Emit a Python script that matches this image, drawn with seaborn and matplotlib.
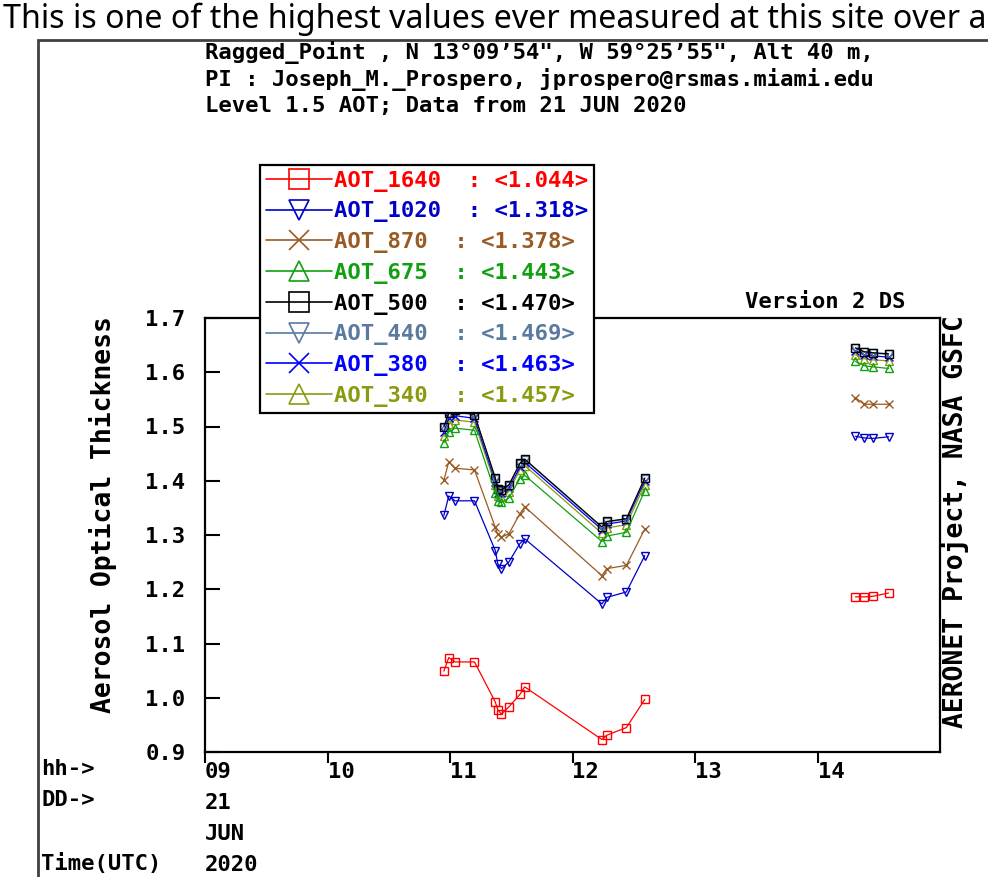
import numpy as np
import pandas as pd
import seaborn as sns
import matplotlib.pyplot as plt
from matplotlib.lines import Line2D
from matplotlib.patches import Rectangle

# observation times (UTC hours, 21 JUN 2020); 'am' and 'pm' groups are not joined
hours = [10.95, 10.99, 11.04, 11.20, 11.37, 11.39, 11.42, 11.48, 11.57, 11.61,
         12.24, 12.28, 12.44, 12.59, 14.31, 14.38, 14.45, 14.58]
part = ['am'] * 14 + ['pm'] * 4

bands = ['AOT_1640', 'AOT_1020', 'AOT_870', 'AOT_675',
         'AOT_500', 'AOT_440', 'AOT_380', 'AOT_340']
means = [1.044, 1.318, 1.378, 1.443, 1.470, 1.469, 1.463, 1.457]

aot_1640 = [1.049, 1.074, 1.066, 1.066, 0.992, 0.978, 0.970, 0.983, 1.006, 1.020,
            0.923, 0.931, 0.945, 0.997, 1.186, 1.186, 1.187, 1.193]
aot_1020 = [1.336, 1.372, 1.363, 1.363, 1.271, 1.247, 1.238, 1.250, 1.284, 1.293,
            1.173, 1.185, 1.195, 1.262, 1.482, 1.479, 1.478, 1.481]
aot_870 = [1.401, 1.435, 1.423, 1.420, 1.314, 1.301, 1.296, 1.302, 1.339, 1.352,
           1.225, 1.238, 1.244, 1.311, 1.553, 1.541, 1.541, 1.541]
aot_675 = [1.470, 1.490, 1.497, 1.493, 1.378, 1.362, 1.360, 1.368, 1.404, 1.410,
           1.288, 1.298, 1.305, 1.382, 1.620, 1.612, 1.610, 1.607]
aot_500 = [1.500, 1.525, 1.530, 1.522, 1.405, 1.385, 1.383, 1.392, 1.432, 1.440,
           1.315, 1.325, 1.330, 1.405, 1.645, 1.638, 1.636, 1.634]
aot_440 = [1.498, 1.523, 1.528, 1.521, 1.404, 1.384, 1.382, 1.391, 1.431, 1.439,
           1.314, 1.324, 1.329, 1.404, 1.644, 1.637, 1.635, 1.633]
aot_380 = [1.490, 1.515, 1.520, 1.515, 1.398, 1.378, 1.377, 1.386, 1.425, 1.434,
           1.310, 1.320, 1.326, 1.400, 1.640, 1.632, 1.630, 1.628]
aot_340 = [1.482, 1.505, 1.512, 1.508, 1.392, 1.372, 1.370, 1.380, 1.420, 1.428,
           1.303, 1.313, 1.319, 1.393, 1.632, 1.625, 1.623, 1.621]
values = [aot_1640, aot_1020, aot_870, aot_675, aot_500, aot_440, aot_380, aot_340]

colors = ['#ff0000', '#0000c8', '#9a5a24', '#10a010',
          '#000000', '#5a7aa0', '#0000ff', '#8c9a10']
markers = ['s', 'v', 'x', '^', 's', 'v', 'x', '^']

y_ticks = [0.9, 1.0, 1.1, 1.2, 1.3, 1.4, 1.5, 1.6, 1.7]
x_ticks = [9, 10, 11, 12, 13, 14]
x_labels = ['09\n21\nJUN\n2020', '10', '11', '12', '13', '14']

df = pd.concat([pd.DataFrame({'hour': hours, 'aot': v, 'part': part, 'band': b})
                for b, v in zip(bands, values)], ignore_index=True)

sns.set_style('white')
plt.rcParams['font.family'] = ['DejaVu Sans Mono']
plt.rcParams['font.weight'] = 'bold'
plt.rcParams['text.color'] = 'black'
plt.rcParams['xtick.color'] = 'black'
plt.rcParams['ytick.color'] = 'black'
plt.rcParams['xtick.labelcolor'] = 'black'
plt.rcParams['ytick.labelcolor'] = 'black'

W, H = 988, 877
fig = plt.figure(figsize=(W / 100, H / 100), dpi=100)

# page caption and outer frame
cap = fig.text(3 / W, 1 - 3 / H, 'This is one of the highest values ever measured at this site over a',
               family='Noto Sans', weight='normal', fontsize=20, ha='left', va='top')
fig.canvas.draw()
w = cap.get_window_extent().width
cap.set_fontsize(20 * 982 / w)
fig.add_artist(Rectangle((38 / W, -0.05), 1.0, 1 - 40 / H + 0.05, transform=fig.transFigure,
                         fill=False, edgecolor='#404040', lw=2))

ax = fig.add_axes([205 / W, 1 - 752 / H, (940 - 205) / W, (752 - 318) / H])

# draw from the last band to the first so the red/blue ones stay on top like in the source
for b, c, m in list(zip(bands, colors, markers))[::-1]:
    sns.lineplot(data=df[df['band'] == b], x='hour', y='aot', units='part', estimator=None,
                 sort=False, color=c, marker=m, ms=6, mfc='none', markeredgecolor=c,
                 markeredgewidth=1.0, lw=0.9, ax=ax, legend=False)

ax.set_xlim(9, 15)
ax.set_ylim(0.9, 1.7)
ax.set_xticks(x_ticks)
ax.set_xticklabels(x_labels)
ax.set_yticks(y_ticks)
ax.set_yticklabels(['%.1f' % v for v in y_ticks])
ax.set_xlabel('')
ax.set_ylabel('')
ax.tick_params(axis='y', direction='in', length=11, width=1.5, pad=14, labelsize=16, left=True)
ax.tick_params(axis='x', direction='out', length=8, width=1.5, pad=-1, labelsize=16, bottom=True)
for lab in ax.get_xticklabels():
    lab.set_horizontalalignment('left')
    lab.set_linespacing(1.7)
for s in ax.spines.values():
    s.set_color('black')
    s.set_linewidth(1.6)

handles = [Line2D([], [], color=c, marker=m, ms=15, mfc='none', mec=c, mew=1.2, lw=1.2)
           for c, m in zip(colors, markers)]
labels = [f'{b}  : <{v:.3f}>' for b, v in zip(bands, means)]
leg = ax.legend(handles, labels, loc='upper left', bbox_to_anchor=(260 / W, 1 - 165 / H),
                bbox_transform=fig.transFigure, borderaxespad=0, frameon=True, fancybox=False,
                framealpha=1, edgecolor='black', labelcolor='linecolor', handlelength=3.0,
                handletextpad=0.1, borderpad=0.25, labelspacing=0.44,
                prop={'family': 'DejaVu Sans Mono', 'weight': 'bold', 'size': 16})
leg.get_frame().set_linewidth(1.6)

# header and side texts
header = ['Ragged_Point , N 13\u00b009\u201954", W 59\u00b025\u201955", Alt 40 m,',
          'PI : Joseph_M._Prospero, jprospero@rsmas.miami.edu',
          'Level 1.5 AOT; Data from 21 JUN 2020']
for i, line in enumerate(header):
    fig.text(205 / W, 1 - (53 + 26.5 * i) / H, line, fontsize=16, ha='left', va='center')
fig.text(905 / W, 1 - 302 / H, 'Version 2 DS', fontsize=16, ha='right', va='center')
fig.text(103 / W, 1 - 515 / H, 'Aerosol Optical Thickness', fontsize=19, rotation=90,
         ha='center', va='center')
fig.text(955 / W, 1 - 522 / H, 'AERONET Project, NASA GSFC', fontsize=19, rotation=90,
         ha='center', va='center')
fig.text(41 / W, 1 - 759 / H, 'hh->\nDD->\n\nTime(UTC)', fontsize=16, ha='left', va='top',
         linespacing=1.7)

fig.savefig('out.png', dpi=100)
